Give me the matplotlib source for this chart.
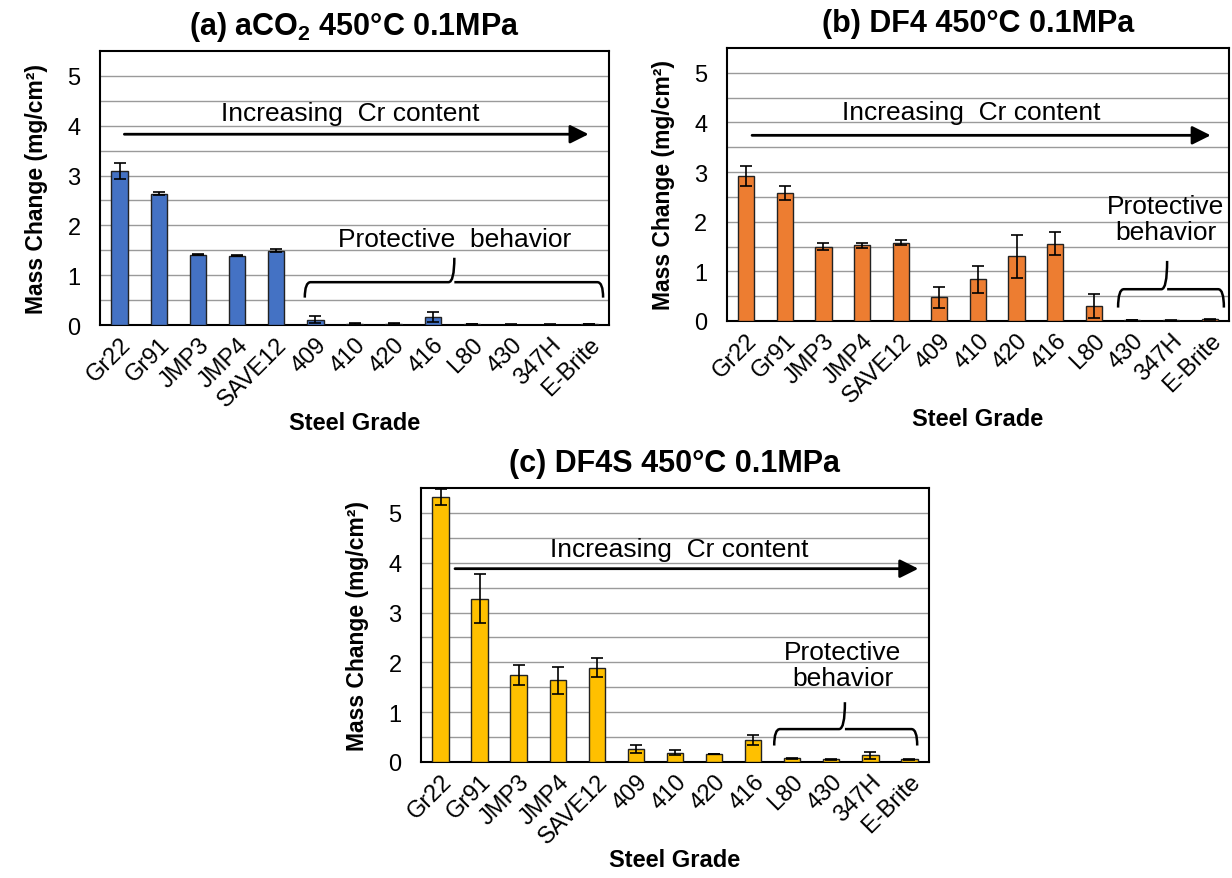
import numpy as np
import matplotlib
matplotlib.use("Agg")
import matplotlib.pyplot as plt
from matplotlib.path import Path
from matplotlib.patches import PathPatch

grades = ["Gr22", "Gr91", "JMP3", "JMP4", "SAVE12", "409", "410", "420",
          "416", "L80", "430", "347H", "E-Brite"]

# (a) aCO2
a_vals = [3.10, 2.64, 1.41, 1.39, 1.49, 0.11, 0.03, 0.03, 0.16, 0.02, 0.01, 0.01, 0.02]
a_err = [0.16, 0.03, 0.01, 0.01, 0.03, 0.07, 0.01, 0.01, 0.10, 0.005, 0.005, 0.005, 0.005]
# (b) DF4
b_vals = [2.92, 2.58, 1.50, 1.53, 1.58, 0.48, 0.84, 1.30, 1.56, 0.30, 0.02, 0.01, 0.03]
b_err = [0.21, 0.14, 0.07, 0.05, 0.05, 0.21, 0.27, 0.43, 0.23, 0.25, 0.005, 0.005, 0.01]
# (c) DF4S
c_vals = [5.31, 3.28, 1.75, 1.64, 1.89, 0.27, 0.19, 0.16, 0.45, 0.07, 0.05, 0.13, 0.05]
c_err = [0.16, 0.49, 0.20, 0.27, 0.19, 0.08, 0.06, 0.01, 0.10, 0.01, 0.01, 0.07, 0.01]

titles = ["(a) aCO$_\\mathbf{2}$ 450\u00b0C 0.1MPa", "(b) DF4 450\u00b0C 0.1MPa",
          "(c) DF4S 450\u00b0C 0.1MPa"]
colors = ["#4472C4", "#ED7D31", "#FFC000"]

plt.rcParams["font.family"] = ["Liberation Sans", "DejaVu Sans"]
plt.rcParams["mathtext.fontset"] = "custom"
plt.rcParams["mathtext.bf"] = "Liberation Sans:bold"
plt.rcParams["mathtext.rm"] = "Liberation Sans"

fig = plt.figure(figsize=(12.32, 8.79), dpi=100)
boxes = [[0.0812, 0.6291, 0.4131, 0.3117],
         [0.5900, 0.6337, 0.4075, 0.3106],
         [0.3417, 0.1320, 0.4123, 0.3117]]

# arrow (x0, x1, y, text x, text y) in data units of each panel
arrows = [(0.05, 12.05, 3.83, 5.9, 4.26),
          (0.08, 12.1, 3.74, 5.83, 4.2),
          (0.3, 12.3, 3.88, 6.1, 4.28)]
# brace (x0, x1, xmid, y ends, y line, y tip)
braces = [(4.73, 12.35, 8.55, 0.55, 0.86, 1.35),
          (9.63, 12.37, 10.9, 0.27, 0.64, 1.21),
          (8.54, 12.2, 10.35, 0.33, 0.66, 1.2)]
prot_text = [("Protective  behavior", 8.55, 1.73),
             ("Protective\nbehavior", 10.87, 2.05),
             ("Protective\nbehavior", 10.3, 1.95)]


def brace(ax, x0, x1, xm, yb, yh, ytop):
    dx = 0.15
    verts = [(x0, yb), (x0, yh), (x0 + dx, yh), (xm - dx, yh), (xm, yh), (xm, ytop),
             (xm, yh), (xm + dx, yh), (x1 - dx, yh), (x1, yh), (x1, yb)]
    codes = [Path.MOVETO, Path.CURVE3, Path.CURVE3, Path.LINETO, Path.CURVE3, Path.CURVE3,
             Path.MOVETO, Path.CURVE3, Path.LINETO, Path.CURVE3, Path.CURVE3]
    ax.add_patch(PathPatch(Path(verts, codes), fill=False, lw=1.8, color="black"))


x = np.arange(len(grades))
for k, (vals, err) in enumerate([(a_vals, a_err), (b_vals, b_err), (c_vals, c_err)]):
    ax = fig.add_axes(boxes[k])
    ax.bar(x, vals, width=0.42, color=colors[k], edgecolor="#222222", linewidth=1.0,
           yerr=err, error_kw=dict(ecolor="black", elinewidth=1.2, capsize=4, capthick=1.2),
           zorder=3)
    ax.set_xlim(-0.5, 12.5)
    ax.set_ylim(0, 5.5)
    ax.set_yticks(np.arange(0, 5.5, 0.5), minor=True)
    ax.set_yticks(range(0, 6))
    ax.yaxis.grid(True, which="both", color="#9a9a9a", lw=1.0, zorder=0)
    ax.set_axisbelow(True)
    ax.tick_params(axis="y", which="both", length=0, labelsize=17, pad=14)
    ax.tick_params(axis="x", length=0, labelsize=17, pad=6)
    ax.set_xticks(x)
    ax.set_xticklabels(grades, rotation=45, ha="right", rotation_mode="anchor")
    for sp in ax.spines.values():
        sp.set_linewidth(1.5)
        sp.set_color("black")
    ax.set_title(titles[k], fontsize=22, fontweight="bold", pad=12)
    ax.set_ylabel("Mass Change (mg/cm\u00b2)", fontsize=16.5, fontweight="bold", labelpad=14)
    ax.set_xlabel("Steel Grade", fontsize=17, fontweight="bold", labelpad=0)

    ax0, ax1, ay, tx, ty = arrows[k]
    ax.annotate("", xy=(ax1, ay), xytext=(ax0, ay),
                arrowprops=dict(arrowstyle="-|>", lw=2, color="black", mutation_scale=28),
                zorder=5)
    ax.text(tx, ty, "Increasing  Cr content", ha="center", va="center", fontsize=19, zorder=5)
    brace(ax, *braces[k])
    s, px, py = prot_text[k]
    ax.text(px, py, s, ha="center", va="center", linespacing=1.1, fontsize=19, zorder=5)

fig.savefig("out.png", dpi=100)
